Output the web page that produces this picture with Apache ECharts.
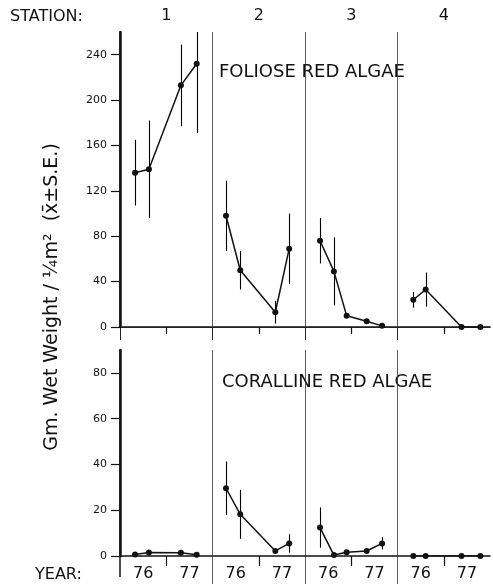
<!DOCTYPE html>
<html>
<head>
<meta charset="utf-8">
<script src="https://cdn.jsdelivr.net/npm/echarts@6/dist/echarts.min.js"></script>
<style>html,body{margin:0;padding:0;background:#fff;}#c{width:493px;height:584px;}</style>
</head>
<body>
<div id="c"></div>
<script>
// ---- data (x = month within the station's 1976-77 span, 0..24) ----
const stationLabels = ['1', '2', '3', '4'];
const yearLabels = ['76', '77'];
const monthsPerStation = 24;

const sampleMonthsS1 = [3.9, 7.5, 15.8, 19.9];
const sampleMonthsS2 = [3.5, 7.2, 16.3, 19.9];
const sampleMonthsS3 = [3.9, 7.5, 10.8, 16.0, 20.0];
const sampleMonthsS4 = [4.1, 7.3, 16.6, 21.5];

const folioseMeanS1 = [136, 139, 213, 232];
const folioseSES1   = [29, 43, 36, 61];
const folioseMeanS2 = [98, 50, 13, 69];
const folioseSES2   = [31, 17, 10, 31];
const folioseMeanS3 = [76, 49, 10, 5, 1];
const folioseSES3   = [20, 30, 0, 0, 0];
const folioseMeanS4 = [24, 33, 0, 0];
const folioseSES4   = [7, 15, 0, 0];

const coralMeanS1 = [0.7, 1.5, 1.4, 0.5];
const coralSES1   = [0, 0, 0, 0];
const coralMeanS2 = [29.6, 18.2, 2.2, 5.5];
const coralSES2   = [11.7, 10.7, 0, 4];
const coralMeanS3 = [12.4, 0.4, 1.6, 2.2, 5.5];
const coralSES3   = [8.8, 0, 0, 0, 2.7];
const coralMeanS4 = [0, 0, 0, 0];
const coralSES4   = [0, 0, 0, 0];

const folioseTicks = [0, 40, 80, 120, 160, 200, 240];
const coralTicks = [0, 20, 40, 60, 80];

// ---- build ----
const months = [sampleMonthsS1, sampleMonthsS2, sampleMonthsS3, sampleMonthsS4];
const folMean = [folioseMeanS1, folioseMeanS2, folioseMeanS3, folioseMeanS4];
const folSE = [folioseSES1, folioseSES2, folioseSES3, folioseSES4];
const corMean = [coralMeanS1, coralMeanS2, coralMeanS3, coralMeanS4];
const corSE = [coralSES1, coralSES2, coralSES3, coralSES4];
const xMax = monthsPerStation * stationLabels.length;
const boundaries = stationLabels.slice(1).map((s, i) => (i + 1) * monthsPerStation);
const stationMids = stationLabels.map((s, i) => i * monthsPerStation + monthsPerStation / 2);
const yearMids = [];
stationLabels.forEach((s, i) => yearLabels.forEach((y, j) => yearMids.push(i * monthsPerStation + (j + 0.5) * monthsPerStation / 2)));

const FONT = 'DejaVu Sans';
const series = [];

function errRender(params, api) {
  const x = api.value(0), lo = api.value(1), hi = api.value(2);
  const p1 = api.coord([x, lo]), p2 = api.coord([x, hi]);
  const cs = params.coordSys;
  const top = cs.y, bot = cs.y + cs.height;
  const y1 = Math.min(Math.max(p1[1], top), bot), y2 = Math.min(Math.max(p2[1], top), bot);
  const px = Math.round(p1[0]) + 0.5;
  return { type: 'line', shape: { x1: px, y1: y1, x2: px, y2: y2 }, style: { stroke: '#000', lineWidth: 1.1 } };
}

function addPanel(means, ses, axisIdx) {
  const errData = [];
  means.forEach((arr, si) => {
    const data = arr.map((v, k) => [si * monthsPerStation + months[si][k], v]);
    const s = {
      type: 'line', xAxisIndex: axisIdx.x, yAxisIndex: axisIdx.y, data: data,
      symbol: 'circle', symbolSize: 6, showSymbol: true,
      itemStyle: { color: '#111' }, lineStyle: { color: '#111', width: 1.5 },
      animation: false, silent: true, z: 3
    };
    if (si === 0) {
      s.markLine = {
        silent: true, symbol: ['none', 'none'], label: { show: false }, animation: false,
        lineStyle: { color: '#333', width: 0.8, type: 'solid' },
        data: boundaries.map(b => ({ xAxis: b }))
      };
    }
    series.push(s);
    arr.forEach((v, k) => {
      const e = ses[si][k];
      if (e > 0) errData.push([si * monthsPerStation + months[si][k], v - e, v + e]);
    });
  });
  series.push({
    type: 'custom', xAxisIndex: axisIdx.x, yAxisIndex: axisIdx.y, data: errData,
    renderItem: errRender, animation: false, silent: true, z: 2,
    encode: { x: 0, y: [1, 2] }
  });
}

addPanel(folMean, folSE, { x: 0, y: 0 });
addPanel(corMean, corSE, { x: 3, y: 2 });

const yLabelStyle = { fontFamily: FONT, fontSize: 11, color: '#111' };

const option = {
  backgroundColor: '#fff',
  animation: false,
  grid: [
    { left: 120, top: 32, width: 370, height: 295 },
    { left: 120, top: 350, width: 370, height: 206 }
  ],
  xAxis: [
    { // 0: foliose bottom axis
      type: 'value', gridIndex: 0, min: 0, max: xMax, position: 'bottom',
      axisLine: { show: true, lineStyle: { color: '#111', width: 1.5 } },
      axisTick: { show: true, customValues: stationMids, length: 7, lineStyle: { color: '#111', width: 1.2 } },
      axisLabel: { show: false }, splitLine: { show: false }
    },
    { // 1: station labels on top
      type: 'value', gridIndex: 0, min: 0, max: xMax, position: 'top',
      axisLine: { show: true, lineStyle: { color: '#222', width: 1 } },
      axisTick: { show: false },
      axisLabel: { show: true, customValues: stationMids, margin: 8, fontFamily: FONT, fontSize: 16, color: '#111',
        formatter: v => stationLabels[Math.round((v - monthsPerStation / 2) / monthsPerStation)] },
      splitLine: { show: false }
    },
    { // 2: foliose boundary extensions
      type: 'value', gridIndex: 0, min: 0, max: xMax, position: 'bottom',
      axisLine: { show: false },
      axisTick: { show: true, customValues: [0].concat(boundaries), length: 13, lineStyle: { color: '#222', width: 1 } },
      axisLabel: { show: false }, splitLine: { show: false }
    },
    { // 3: coralline bottom axis with years
      type: 'value', gridIndex: 1, min: 0, max: xMax, position: 'bottom',
      axisLine: { show: true, lineStyle: { color: '#111', width: 1.5 } },
      axisTick: { show: true, customValues: stationMids, length: 10, lineStyle: { color: '#111', width: 1.2 } },
      axisLabel: { show: true, customValues: yearMids, margin: 10, fontFamily: FONT, fontSize: 16, color: '#111',
        formatter: v => yearLabels[Math.floor((v % monthsPerStation) / (monthsPerStation / 2))] },
      splitLine: { show: false }
    },
    { // 4: coralline boundary extensions
      type: 'value', gridIndex: 1, min: 0, max: xMax, position: 'bottom',
      axisLine: { show: false },
      axisTick: { show: true, customValues: boundaries, length: 28, lineStyle: { color: '#333', width: 0.8 } },
      axisLabel: { show: false }, splitLine: { show: false }
    },
    { // 5: coralline left axis extension
      type: 'value', gridIndex: 1, min: 0, max: xMax, position: 'bottom',
      axisLine: { show: false },
      axisTick: { show: true, customValues: [0], length: 21, lineStyle: { color: '#111', width: 1.5 } },
      axisLabel: { show: false }, splitLine: { show: false }
    }
  ],
  yAxis: [
    { // 0 foliose
      type: 'value', gridIndex: 0, min: 0, max: 260, position: 'left',
      axisLine: { show: true, lineStyle: { color: '#111', width: 1.5 } },
      axisTick: { show: true, customValues: folioseTicks, length: 9, lineStyle: { color: '#111', width: 1.2 } },
      axisLabel: Object.assign({ show: true, customValues: folioseTicks, margin: 13 }, yLabelStyle),
      splitLine: { show: false }
    },
    { // 1 foliose right frame
      type: 'value', gridIndex: 0, min: 0, max: 1, position: 'right',
      axisLine: { show: true, lineStyle: { color: '#111', width: 2.5 } },
      axisTick: { show: false }, axisLabel: { show: false }, splitLine: { show: false }
    },
    { // 2 coralline
      type: 'value', gridIndex: 1, min: 0, max: 90, position: 'left',
      axisLine: { show: true, lineStyle: { color: '#111', width: 1.5 } },
      axisTick: { show: true, customValues: coralTicks, length: 9, lineStyle: { color: '#111', width: 1.2 } },
      axisLabel: Object.assign({ show: true, customValues: coralTicks, margin: 13 }, yLabelStyle),
      splitLine: { show: false }
    },
    { // 3 coralline right frame
      type: 'value', gridIndex: 1, min: 0, max: 1, position: 'right',
      axisLine: { show: true, lineStyle: { color: '#111', width: 2.5 } },
      axisTick: { show: false }, axisLabel: { show: false }, splitLine: { show: false }
    }
  ],
  graphic: [
    { type: 'text', x: 10, y: 17, style: { text: 'STATION:', fontFamily: FONT, fontSize: 16, fill: '#111', textAlign: 'left', textVerticalAlign: 'middle' } },
    { type: 'text', x: 35, y: 575, style: { text: 'YEAR:', fontFamily: FONT, fontSize: 16, fill: '#111', textAlign: 'left', textVerticalAlign: 'middle' } },
    { type: 'text', x: 219, y: 72, style: { text: 'FOLIOSE RED ALGAE', fontFamily: FONT, fontSize: 18, fill: '#111', textAlign: 'left', textVerticalAlign: 'middle' } },
    { type: 'text', x: 222, y: 382, style: { text: 'CORALLINE RED ALGAE', fontFamily: FONT, fontSize: 18, fill: '#111', textAlign: 'left', textVerticalAlign: 'middle' } },
    { type: 'text', x: 52, y: 297, rotation: Math.PI / 2, style: { text: 'Gm. Wet Weight / \u00BCm\u00B2  (x\u0304\u00B1S.E.)', fontFamily: FONT, fontSize: 19, fill: '#111', textAlign: 'center', textVerticalAlign: 'middle' } }
  ],
  series: series
};

const chart = echarts.init(document.getElementById('c'), null, { renderer: 'canvas' });
chart.setOption(option);
</script>
</body>
</html>
